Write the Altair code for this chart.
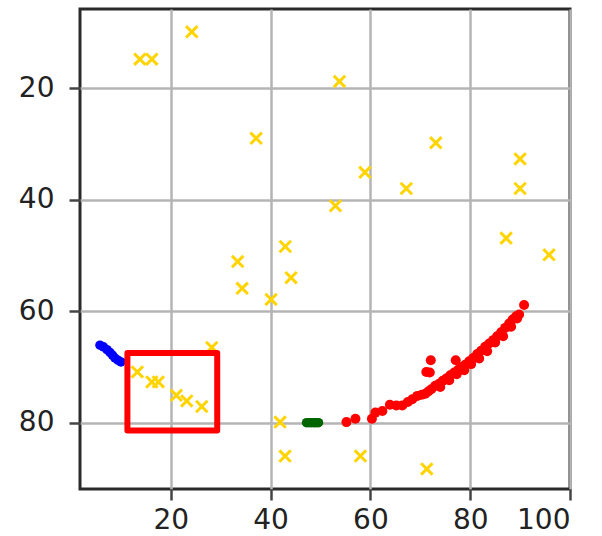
import altair as alt
import pandas as pd

# Scattered "x" markers (gold)
cross_x = [24.2, 13.8, 16.2, 53.8, 37.1, 73.1, 90.0, 58.9, 67.2, 90.0, 53.0, 87.2,
           42.95, 95.8, 33.4, 44.1, 34.3, 40.1, 28.2, 13.3, 16.2, 17.5, 21.1, 23.2,
           26.2, 41.9, 42.9, 58.0, 71.3]
cross_y = [9.9, 14.8, 14.8, 18.8, 29.0, 29.8, 32.7, 35.1, 38.0, 38.0, 41.1, 46.9,
           48.4, 49.9, 51.1, 54.0, 55.9, 57.9, 66.5, 70.9, 72.7, 72.7, 75.1, 76.1,
           77.1, 79.9, 86.0, 86.0, 88.3]

# Blue cluster
blue_x = [5.8, 6.5, 7.2, 7.8, 8.3, 8.8, 9.4, 10.0]
blue_y = [66.1, 66.4, 66.9, 67.4, 67.9, 68.4, 68.8, 69.1]

# Green cluster
green_x = [47.2, 47.7, 48.2, 48.7, 49.1, 49.6]
green_y = [80.0, 80.0, 80.0, 80.0, 80.0, 80.0]

# Red curve
red_x = [55.2, 57.0, 60.3, 61.0, 62.4, 63.9, 65.2, 66.4, 67.5, 68.4, 69.4, 70.3,
         71.0, 71.6, 72.2, 73.0, 73.8, 74.5, 75.2, 76.0, 76.8, 77.6, 78.3, 79.0,
         79.8, 80.6, 81.4, 82.2, 83.0, 83.8, 84.6, 85.4, 86.2, 87.0, 87.8, 88.5,
         89.2, 89.8, 90.8,
         74.0, 75.8, 77.3, 78.8, 80.2, 81.8, 83.4, 85.0, 86.6, 88.2, 89.4,
         71.2, 71.9, 72.1, 77.1]
red_y = [79.9, 79.3, 79.3, 78.2, 77.9, 76.8, 76.9, 76.9, 76.3, 75.8, 75.2, 75.0,
         74.8, 74.4, 74.0, 73.4, 73.0, 72.5, 72.1, 71.5, 71.0, 70.5, 70.0, 69.6,
         69.0, 68.4, 67.7, 67.1, 66.4, 65.8, 65.2, 64.5, 63.8, 63.0, 62.2, 61.5,
         60.9, 60.6, 58.9,
         73.6, 72.4, 71.3, 70.6, 69.5, 68.5, 67.2, 65.6, 64.5, 62.8, 61.3,
         70.9, 71.0, 68.8, 68.8]

# Highlight box
box_x = [11.3]
box_x2 = [29.3]
box_y = [67.5]
box_y2 = [81.4]

x_ticks = [20, 40, 60, 80, 100]
y_ticks = [20, 40, 60, 80]

x_scale = alt.Scale(domain=[1.8, 100], nice=False, zero=False)
y_scale = alt.Scale(domain=[5.8, 91.9], nice=False, zero=False, reverse=True)

x_axis = alt.Axis(values=x_ticks, title=None, grid=True)
y_axis = alt.Axis(values=y_ticks, title=None, grid=True)

X_SHAPE = "M-1,-1L1,1M-1,1L1,-1"

crosses = alt.Chart(pd.DataFrame({"x": cross_x, "y": cross_y})).mark_point(
    shape=X_SHAPE, filled=False, stroke="#FFD400", strokeWidth=3, size=130, opacity=1
).encode(
    x=alt.X("x:Q", scale=x_scale, axis=x_axis),
    y=alt.Y("y:Q", scale=y_scale, axis=y_axis),
)


def dots(xs, ys, color, size):
    return alt.Chart(pd.DataFrame({"x": xs, "y": ys})).mark_circle(
        color=color, size=size, opacity=1
    ).encode(
        x=alt.X("x:Q", scale=x_scale),
        y=alt.Y("y:Q", scale=y_scale),
    )


blue = dots(blue_x, blue_y, "#0000FF", 90)
green = dots(green_x, green_y, "#006400", 90)
red = dots(red_x, red_y, "#FF0000", 100)

box = alt.Chart(pd.DataFrame({"x": box_x, "x2": box_x2, "y": box_y, "y2": box_y2})).mark_rect(
    fill=None, fillOpacity=0, stroke="#FF0000", strokeWidth=6, strokeJoin="round"
).encode(
    x=alt.X("x:Q", scale=x_scale),
    x2="x2:Q",
    y=alt.Y("y:Q", scale=y_scale),
    y2="y2:Q",
)

chart = alt.layer(crosses, blue, green, red, box).properties(
    width=490,
    height=480,
    autosize=alt.AutoSizeParams(type="none"),
    padding={"left": 80, "top": 9, "right": 32, "bottom": 47},
    background="white",
).configure_view(
    stroke="#2a2a2a", strokeWidth=3
).configure_axis(
    domain=False,
    gridColor="#b4b4b4",
    gridWidth=2.5,
    tickColor="#444444",
    tickWidth=2.5,
    tickSize=11,
    labelFont="DejaVu Sans",
    labelFontSize=28,
    labelColor="#222222",
).configure_axisY(
    labelPadding=15,
).configure_axisX(
    labelPadding=6,
)

chart.save("out.html", embed_options={"renderer": "svg", "actions": False})
